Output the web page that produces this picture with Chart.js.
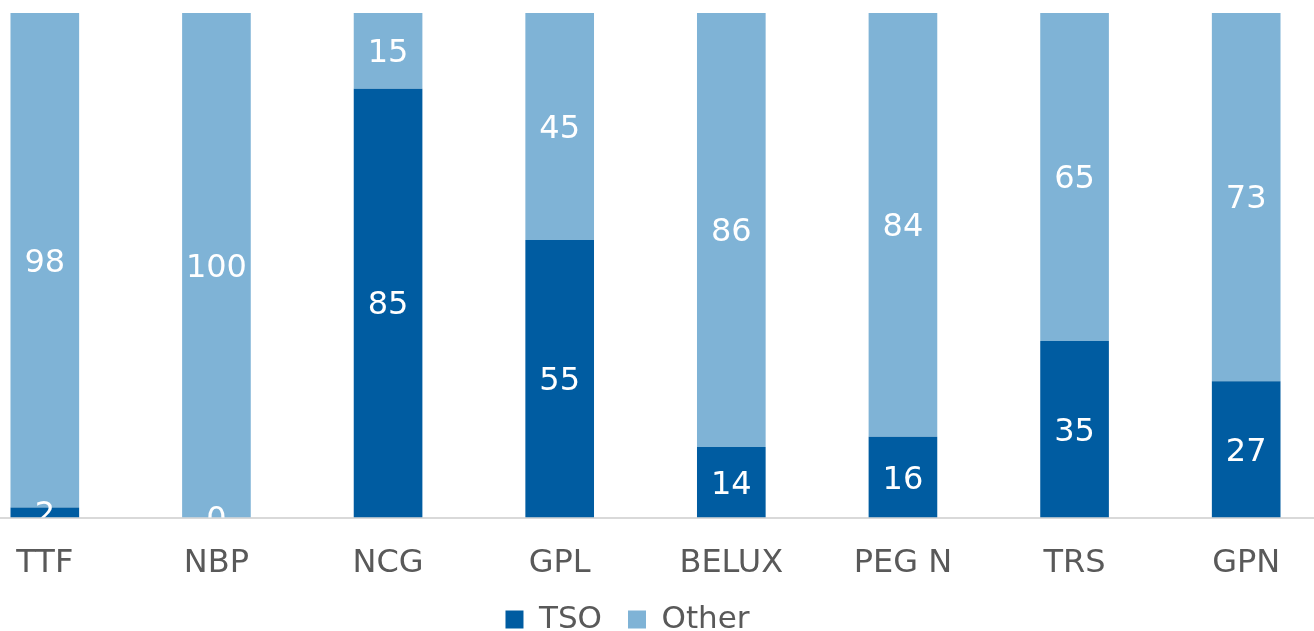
<!DOCTYPE html>
<html>
<head>
<meta charset="utf-8">
<script src="https://cdn.jsdelivr.net/npm/chart.js@4.4.1/dist/chart.umd.min.js"></script>
<style>
  html, body { margin: 0; padding: 0; background: #fff; overflow: hidden; width: 1314px; height: 631px; }
  #wrap { position: absolute; left: -41px; top: 0; width: 1373px; height: 677px; }
</style>
</head>
<body>
<div id="wrap"><canvas id="hubChart"></canvas></div>
<script>
// categories and shares (%)
const hubs = ['TTF', 'NBP', 'NCG', 'GPL', 'BELUX', 'PEG N', 'TRS', 'GPN'];
const tsoShare = [2, 0, 85, 55, 14, 16, 35, 27];
const otherShare = [98, 100, 15, 45, 86, 84, 65, 73];

const FONT = "'DejaVu Sans', Verdana, sans-serif";
const GREY = '#595959';

// white value labels in the middle of each segment, clipped to the plot
const barLabels = {
    id: 'barLabels',
    afterDatasetsDraw(chart) {
        const ctx = chart.ctx;
        const area = chart.chartArea;
        ctx.save();
        ctx.beginPath();
        ctx.rect(area.left, area.top, area.right - area.left, area.bottom - area.top);
        ctx.clip();
        ctx.font = '32px ' + FONT;
        ctx.fillStyle = '#ffffff';
        ctx.textAlign = 'center';
        ctx.textBaseline = 'middle';
        chart.data.datasets.forEach((ds, i) => {
            chart.getDatasetMeta(i).data.forEach((bar, j) => {
                const y = (bar.y + bar.base) / 2 + 3;
                ctx.fillText(String(ds.data[j]), bar.x, y);
            });
        });
        ctx.restore();
    }
};

// legend sits closer to the axis labels than chart.js would put it
const legendShift = {
    id: 'legendShift',
    afterLayout(chart) {
        const lg = chart.legend;
        lg.left -= 18;
        lg.right -= 18;
        lg.top -= 32;
        lg.bottom -= 32;
    }
};

const ctx = document.getElementById('hubChart').getContext('2d');
new Chart(ctx, {
    type: 'bar',
    data: {
        labels: hubs,
        datasets: [
            { label: 'TSO', data: tsoShare, backgroundColor: '#005CA1', categoryPercentage: 0.4, barPercentage: 1 },
            { label: 'Other', data: otherShare, backgroundColor: '#7FB3D6', categoryPercentage: 0.4, barPercentage: 1 }
        ]
    },
    options: {
        responsive: true,
        maintainAspectRatio: false,
        animation: false,
        layout: { padding: { top: 13, left: 0, right: 0, bottom: 0 } },
        scales: {
            x: {
                stacked: true,
                grid: { display: true, color: 'rgba(0,0,0,0)', drawTicks: false },
                border: { display: true, color: '#D9D9D9', width: 2 },
                ticks: { color: GREY, font: { family: FONT, size: 32 }, padding: 27, maxRotation: 0 }
            },
            y: {
                stacked: true,
                display: false,
                min: 0,
                max: 100
            }
        },
        plugins: {
            tooltip: { enabled: false },
            legend: {
                position: 'bottom',
                labels: {
                    color: GREY,
                    font: { family: FONT, size: 31 },
                    boxWidth: 18,
                    boxHeight: 18,
                    padding: 26
                }
            }
        }
    },
    plugins: [barLabels, legendShift]
});
</script>
</body>
</html>
